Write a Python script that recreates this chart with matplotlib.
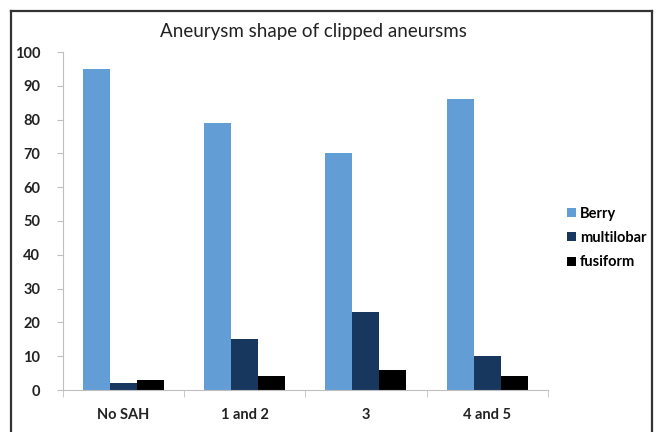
import matplotlib
matplotlib.use("Agg")
import matplotlib.pyplot as plt
import numpy as np

categories = ["No SAH", "1 and 2", "3", "4 and 5"]
berry = [95, 79, 70, 86]
multilobar = [2, 15, 23, 10]
fusiform = [3, 4, 6, 4]
series = [("Berry", berry, "#629dd6"),
          ("multilobar", multilobar, "#17375e"),
          ("fusiform", fusiform, "#000000")]

plt.rcParams['font.family'] = ['Lato', 'DejaVu Sans']

W, H = 662, 432
fig = plt.figure(figsize=(W / 100, H / 100), dpi=100)

# chart frame: an empty axes whose spines form the border, open at the bottom
frame = fig.add_axes([10.5 / W, -0.02, 641 / W, 1.02 - 10.5 / H])
frame.set_xticks([])
frame.set_yticks([])
frame.patch.set_alpha(0)
frame.spines["bottom"].set_visible(False)
for s in ["top", "left", "right"]:
    frame.spines[s].set_color("#333333")
    frame.spines[s].set_linewidth(1.6)

ax = fig.add_axes([62.5 / W, (H - 390) / H, (548 - 62.5) / W, (390 - 52) / H])

x = np.arange(len(categories))
bw = 1 / 4.5
for i, (name, vals, col) in enumerate(series):
    ax.bar(x + (i - 1) * bw, vals, bw, color=col, label=name)

ax.set_xlim(-0.5, len(categories) - 0.5)
ax.set_ylim(0, 100)
ax.set_yticks(range(0, 101, 10))
ax.set_xticks(x)
ax.set_xticklabels(categories)
ax.set_xticks(np.arange(len(categories) + 1) - 0.5, minor=True)
ax.tick_params(axis="x", which="major", length=0, pad=13)
ax.tick_params(axis="x", which="minor", length=5, color="#bfbfbf")
ax.tick_params(axis="y", length=4, color="#bfbfbf", pad=12)
for lab in ax.get_xticklabels() + ax.get_yticklabels():
    lab.set_fontsize(10.5)
    lab.set_fontweight("bold")
    lab.set_color("#222222")
for s in ["top", "right"]:
    ax.spines[s].set_visible(False)
for s in ["left", "bottom"]:
    ax.spines[s].set_color("#bfbfbf")

fig.text(313 / W, 1 - 31 / H, "Aneurysm shape of clipped aneursms",
         ha="center", va="center", fontsize=13.5, color="#222222")

ax.legend(loc="center left", bbox_to_anchor=(560 / W, 1 - 238 / H),
          bbox_transform=fig.transFigure, frameon=False, borderpad=0,
          handlelength=0.57, handleheight=0.57, handletextpad=0.3,
          labelspacing=0.7, prop={"size": 10.5, "weight": "bold"})

fig.savefig("out.png", dpi=100)
